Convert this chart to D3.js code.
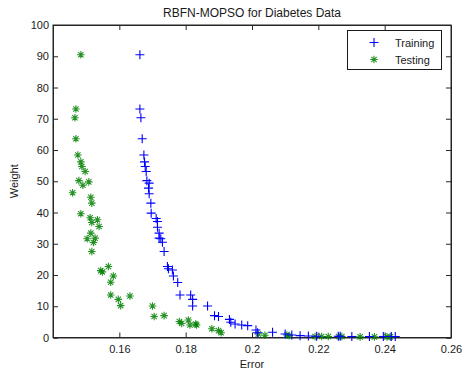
<!DOCTYPE html>
<html>
<head>
<meta charset="utf-8">
<script src="https://cdn.jsdelivr.net/npm/d3@7"></script>
<style>
  body { margin: 0; background: #fff; }
  svg { display: block; font-family: "Liberation Sans", Arial, sans-serif; }
</style>
</head>
<body>
<svg id="chart" width="463" height="374"></svg>
<script>
const title = "RBFN-MOPSO for Diabetes Data";
const xLabel = "Error";
const yLabel = "Weight";
const seriesNames = ["Training", "Testing"];
const xTicks = [0.16, 0.18, 0.2, 0.22, 0.24, 0.26];
const yTicks = [0, 10, 20, 30, 40, 50, 60, 70, 80, 90, 100];

const trainError = [0.1662,0.1662,0.1665,0.1669,0.1674,0.1676,0.1678,0.1681,0.1683,0.1690,0.1688,0.1690,0.1695,0.1696,0.1711,0.1715,0.1715,0.1720,0.1720,0.1725,0.1730,0.1735,0.1745,0.1748,0.1760,0.1763,0.1776,0.1783,0.1815,0.1821,0.1821,0.1866,0.1887,0.1899,0.1932,0.1936,0.1949,0.1969,0.1987,0.2012,0.2017,0.2062,0.2100,0.2120,0.2145,0.2170,0.2195,0.2260,0.2266,0.2301,0.2354,0.2396,0.2420,0.2432];
const trainWeight = [90.5,73.1,70.3,63.6,58.4,56.2,54.7,53.1,50.2,49.4,47.8,46.0,43.0,39.8,38.1,37.1,35.3,33.4,31.8,31.6,30.5,27.5,22.7,22.0,21.6,19.7,17.6,13.6,13.6,12.2,10.1,10.1,7.0,6.7,5.8,4.9,4.3,4.0,3.8,2.4,1.5,1.7,1.1,0.8,0.6,0.5,0.4,0.4,0.4,0.3,0.3,0.3,0.3,0.3];

const testError = [0.1484,0.1469,0.1466,0.1469,0.1475,0.1484,0.1487,0.1497,0.1478,0.1490,0.1508,0.1459,0.1514,0.1517,0.1484,0.1512,0.1517,0.1534,0.1539,0.1514,0.1503,0.1527,0.1522,0.1517,0.1544,0.1549,0.1567,0.1582,0.1574,0.1574,0.1597,0.1604,0.1632,0.1700,0.1705,0.1735,0.1781,0.1788,0.1808,0.1813,0.1833,0.1830,0.1879,0.1899,0.1907,0.2019,0.2039,0.2105,0.2112,0.2190,0.2210,0.2230,0.2261,0.2271,0.2326,0.2369,0.2407,0.2417];
const testWeight = [90.5,73.1,70.3,63.6,58.4,56.2,54.7,53.1,50.2,48.7,49.8,46.3,44.9,43.0,39.6,38.3,36.8,37.7,35.5,33.4,31.6,31.8,30.4,27.5,21.4,21.0,22.7,19.7,17.7,13.6,12.2,10.2,13.3,10.1,6.7,7.0,5.1,4.5,5.6,4.0,4.0,4.3,2.8,2.2,1.5,1.1,0.7,0.8,0.6,0.3,0.3,0.3,0.3,0.3,0.2,0.2,0.2,0.2];

const svg = d3.select("#chart");
const L = 53, R = 451, T = 25, B = 337.5;
const x = d3.scaleLinear().domain([0.14, 0.26]).range([L, R]);
const y = d3.scaleLinear().domain([0, 100]).range([B, T]);
const axisColor = "#262626";
const tickLen = 5;

// box
svg.append("rect").attr("x", L).attr("y", T).attr("width", R - L).attr("height", B - T)
  .attr("fill", "#fff").attr("stroke", axisColor).attr("stroke-width", 1);

// axes with inward ticks
const gx = svg.append("g").attr("transform", `translate(0,${B})`)
  .call(d3.axisBottom(x).tickValues(xTicks).tickSize(-tickLen).tickPadding(8).tickFormat(d3.format("~g")));
const gxTop = svg.append("g").attr("transform", `translate(0,${T})`)
  .call(d3.axisTop(x).tickValues(xTicks).tickSize(-tickLen).tickFormat(""));
const gy = svg.append("g").attr("transform", `translate(${L},0)`)
  .call(d3.axisLeft(y).tickValues(yTicks).tickSize(-tickLen).tickPadding(4));
const gyR = svg.append("g").attr("transform", `translate(${R},0)`)
  .call(d3.axisRight(y).tickValues(yTicks).tickSize(-tickLen).tickFormat(""));
[gx, gxTop, gy, gyR].forEach(g => {
  g.select(".domain").attr("stroke", axisColor);
  g.selectAll(".tick line").attr("stroke", axisColor);
  g.selectAll("text").attr("fill", "#1a1a1a").attr("font-size", 11)
    .attr("font-family", "'Liberation Sans', Arial, sans-serif");
});

// title & labels
svg.append("text").attr("x", (L + R) / 2).attr("y", 17).attr("text-anchor", "middle")
  .attr("font-size", 12).attr("fill", "#1a1a1a").text(title);
svg.append("text").attr("x", (L + R) / 2).attr("y", 368).attr("text-anchor", "middle")
  .attr("font-size", 11).attr("fill", "#1a1a1a").text(xLabel);
svg.append("text").attr("transform", `translate(18,${(T + B) / 2}) rotate(-90)`).attr("text-anchor", "middle")
  .attr("font-size", 11).attr("fill", "#1a1a1a").text(yLabel);

const plusPath = (cx, cy, r) => `M${cx - r},${cy}H${cx + r}M${cx},${cy - r}V${cy + r}`;
const starPath = (cx, cy, r) => {
  const d = r * 0.7;
  return `M${cx - r},${cy}H${cx + r}M${cx},${cy - r}V${cy + r}` +
    `M${cx - d},${cy - d}L${cx + d},${cy + d}M${cx - d},${cy + d}L${cx + d},${cy - d}`;
};

const trainData = trainError.map((e, i) => ({ e, w: trainWeight[i] }));
const testData = testError.map((e, i) => ({ e, w: testWeight[i] }));

const plot = svg.append("g");
plot.selectAll("path.test").data(testData).join("path").attr("class", "test")
  .attr("d", d => starPath(x(d.e), y(d.w), 3.8))
  .attr("stroke", "#008000").attr("stroke-width", 1.1).attr("fill", "none").attr("stroke-opacity", 0.85);
plot.selectAll("path.train").data(trainData).join("path").attr("class", "train")
  .attr("d", d => plusPath(x(d.e), y(d.w), 4.5))
  .attr("stroke", "#0000ff").attr("stroke-width", 1.1).attr("fill", "none");

// legend
const lg = svg.append("g");
lg.append("rect").attr("x", 347.5).attr("y", 30.5).attr("width", 94).attr("height", 39)
  .attr("fill", "#fff").attr("stroke", "#1a1a1a").attr("stroke-width", 1);
lg.append("path").attr("d", plusPath(374, 42.5, 4.5)).attr("stroke", "#0000ff").attr("stroke-width", 1.1);
lg.append("path").attr("d", starPath(374, 59.5, 3.8)).attr("stroke", "#008000").attr("stroke-width", 1.1).attr("fill", "none").attr("stroke-opacity", 0.85);
lg.append("text").attr("x", 395).attr("y", 46.5).attr("font-size", 11).attr("fill", "#1a1a1a").text(seriesNames[0]);
lg.append("text").attr("x", 395).attr("y", 63.5).attr("font-size", 11).attr("fill", "#1a1a1a").text(seriesNames[1]);
</script>
</body>
</html>
